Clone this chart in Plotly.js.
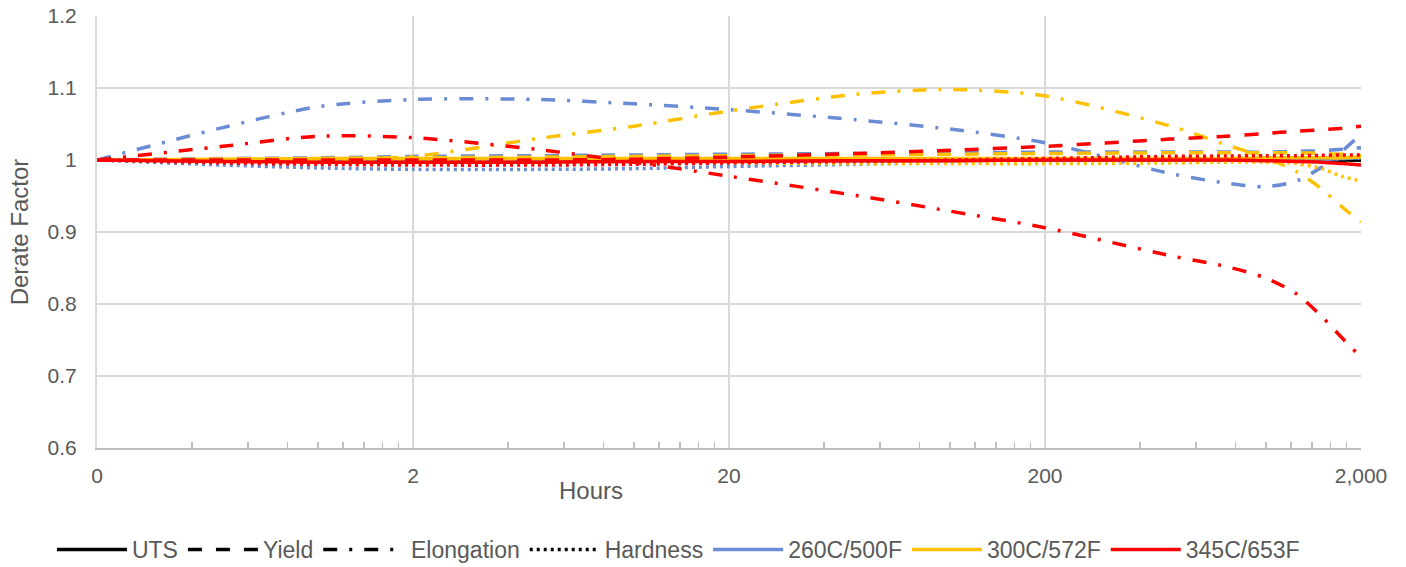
<!DOCTYPE html>
<html>
<head>
<meta charset="utf-8">
<script src="https://cdn.plot.ly/plotly-3.0.1.min.js"></script>
<style>
  html, body { margin: 0; padding: 0; background: #ffffff; }
  #chart { width: 1406px; height: 567px; }
</style>
</head>
<body>
<div id="chart"></div>
<script>
// ---- data ----
const hours = [0.2, 0.5, 1, 2, 5, 10, 20, 50, 100, 200, 500, 750, 1000, 1250, 1500, 1750, 2000];

const baseline = [1, 1, 1, 1, 1, 1, 1, 1, 1, 1, 1, 1, 1, 1, 1, 1, 1];

const uts260   = [1.000, 0.999, 0.998, 0.998, 0.998, 0.998, 0.999, 0.999, 0.999, 1.000, 1.000, 1.000, 1.000, 1.001, 1.001, 1.002, 1.003];
const yield260 = [1.000, 1.002, 1.003, 1.005, 1.006, 1.007, 1.008, 1.009, 1.010, 1.011, 1.011, 1.011, 1.011, 1.012, 1.013, 1.015, 1.017];
const elong260 = [1.000, 1.045, 1.074, 1.084, 1.084, 1.078, 1.070, 1.056, 1.043, 1.024, 0.981, 0.968, 0.963, 0.971, 0.990, 1.013, 1.036];
const hard260  = [1.000, 0.993, 0.989, 0.987, 0.987, 0.988, 0.991, 0.994, 0.997, 0.999, 1.000, 1.000, 1.000, 1.000, 1.001, 1.002, 1.003];

const uts300   = [1.000, 1.001, 1.002, 1.002, 1.002, 1.002, 1.002, 1.002, 1.002, 1.002, 1.002, 1.002, 1.003, 1.003, 1.003, 1.003, 1.004];
const yield300 = [1.000, 1.001, 1.002, 1.003, 1.004, 1.005, 1.006, 1.007, 1.008, 1.009, 1.010, 1.010, 1.010, 1.010, 1.009, 1.008, 1.006];
const elong300 = [1.000, 1.000, 1.000, 1.005, 1.030, 1.047, 1.068, 1.091, 1.098, 1.089, 1.047, 1.021, 1.003, 0.984, 0.960, 0.934, 0.914];
const hard300  = [1.000, 0.999, 0.998, 0.998, 0.997, 0.997, 0.996, 0.995, 0.995, 0.995, 0.996, 0.997, 0.997, 0.995, 0.988, 0.977, 0.971];

const uts345   = [1.000, 0.998, 0.997, 0.997, 0.997, 0.998, 0.998, 0.999, 0.999, 1.000, 1.000, 1.000, 0.999, 0.998, 0.997, 0.995, 0.993];
const yield345 = [1.000, 1.000, 1.000, 1.000, 1.000, 1.001, 1.004, 1.009, 1.0135, 1.019, 1.029, 1.033, 1.037, 1.040, 1.042, 1.044, 1.047];
const elong345 = [1.000, 1.019, 1.033, 1.031, 1.0145, 0.997, 0.9775, 0.951, 0.929, 0.906, 0.867, 0.852, 0.836, 0.814, 0.783, 0.752, 0.726];
const hard345  = [1.000, 0.996, 0.994, 0.993, 0.993, 0.994, 0.996, 0.998, 1.000, 1.002, 1.005, 1.0055, 1.006, 1.006, 1.0065, 1.007, 1.007];

const propertyNames = ["UTS", "Yield", "Elongation", "Hardness"];
const propertyLegend = ["UTS", "Yield", "\u00a0\u00a0Elongation", "Hardness"];
const tempNames = ["260C/500F", "300C/572F", "345C/653F"];

const xTickVals = [0.2, 2, 20, 200, 2000];
const xTickText = ["0", "2", "20", "200", "2,000"];
const xMinorTicks = [0.4, 0.6, 0.8, 1, 1.2, 1.4, 1.6, 1.8,
                     4, 6, 8, 10, 12, 14, 16, 18,
                     40, 60, 80, 100, 120, 140, 160, 180,
                     400, 600, 800, 1000, 1200, 1400, 1600, 1800];

// ---- styles ----
const colors = ["#6A8CD5", "#FFC000", "#FF0000"];
const W = 3.5;
const dashes = ["solid", "14px,14px", "14px,12px,3px,12px", "3px,4px"];

const seriesByTemp = [
  [uts260, yield260, elong260, hard260],
  [uts300, yield300, elong300, hard300],
  [uts345, yield345, elong345, hard345]
];

const traces = [];
// black legend entries (property line styles)
propertyNames.forEach((name, i) => {
  traces.push({
    x: hours, y: baseline, type: "scatter", mode: "lines", name: propertyLegend[i],
    line: { color: "#000000", width: W, dash: dashes[i], shape: "spline", smoothing: 0.8 },
    hoverinfo: "skip", showlegend: true, legendrank: i + 1
  });
});
// coloured series
seriesByTemp.forEach((arrs, t) => {
  arrs.forEach((ys, p) => {
    traces.push({
      x: hours, y: ys, type: "scatter", mode: "lines",
      name: p === 0 ? tempNames[t] : tempNames[t] + " " + propertyNames[p],
      line: { color: colors[t], width: W, dash: dashes[p], shape: "spline", smoothing: 0.8 },
      showlegend: p === 0, legendrank: 10 + t
    });
  });
});
// carrier for minor tick axis
traces.push({ x: [hours[0]], y: [baseline[0]], xaxis: "x2", yaxis: "y", type: "scatter",
  mode: "lines", showlegend: false, hoverinfo: "skip", line: { color: "rgba(0,0,0,0)" } });

const fontFam = "Liberation Sans, Arial, sans-serif";
const txtColor = "#595959";

const layout = {
  width: 1406, height: 567,
  paper_bgcolor: "#ffffff", plot_bgcolor: "#ffffff",
  margin: { l: 97, r: 45, t: 16, b: 119, autoexpand: false },
  font: { family: fontFam, color: txtColor, size: 23 },
  showlegend: true,
  legend: {
    orientation: "h", x: 0.46, xanchor: "center", y: -0.235, yanchor: "middle",
    font: { family: fontFam, size: 23, color: txtColor },
    itemwidth: 70, traceorder: "normal", bgcolor: "rgba(0,0,0,0)"
  },
  xaxis: {
    type: "log",
    range: [Math.log10(0.2), Math.log10(2000)],
    tickmode: "array", tickvals: xTickVals, ticktext: xTickText,
    ticks: "", showgrid: true, gridcolor: "#d9d9d9", gridwidth: 2,
    showline: true, linecolor: "#bfbfbf", linewidth: 2, mirror: false,
    zeroline: false,
    tickfont: { family: fontFam, size: 21, color: txtColor },
    ticklabelstandoff: 8
  },
  xaxis2: {
    type: "log", overlaying: "x", anchor: "y", side: "bottom",
    range: [Math.log10(0.2), Math.log10(2000)],
    tickmode: "array", tickvals: xMinorTicks,
    ticks: "inside", ticklen: 6, tickwidth: 1.5, tickcolor: "#bfbfbf",
    showticklabels: false, showgrid: false, showline: false, zeroline: false
  },
  yaxis: {
    range: [0.6, 1.2], dtick: 0.1, tick0: 0.6,
    ticks: "", showgrid: true, gridcolor: "#d9d9d9", gridwidth: 2,
    showline: true, linecolor: "#d9d9d9", linewidth: 2,
    zeroline: false,
    tickfont: { family: fontFam, size: 21, color: txtColor },
    ticklabelstandoff: 14,
    title: { text: "Derate Factor", font: { family: fontFam, size: 24, color: txtColor }, standoff: 12 }
  },
  annotations: [{
    text: "Hours", xref: "paper", yref: "paper",
    x: (591 - 97) / 1264, y: (448 - 490) / 432,
    xanchor: "center", yanchor: "middle", showarrow: false,
    font: { family: fontFam, size: 24, color: txtColor }
  }]
};

Plotly.newPlot("chart", traces, layout, { displayModeBar: false, staticPlot: true });
</script>
</body>
</html>
